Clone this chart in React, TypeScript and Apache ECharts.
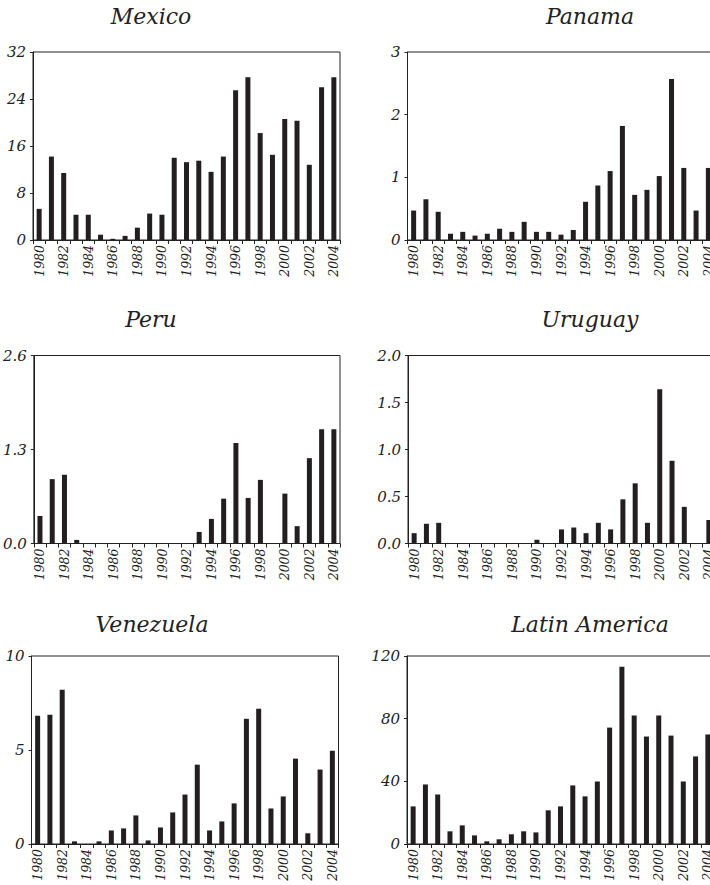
import React, { useEffect, useRef } from "react";
import * as echarts from "echarts";

const YEARS = [
  "1980", "1981", "1982", "1983", "1984", "1985", "1986", "1987", "1988",
  "1989", "1990", "1991", "1992", "1993", "1994", "1995", "1996", "1997",
  "1998", "1999", "2000", "2001", "2002", "2003", "2004",
];

const MEXICO = [
  5.3, 14.2, 11.4, 4.3, 4.3, 0.9, 0.2, 0.7, 2.1, 4.5, 4.3, 14.0, 13.25, 13.5,
  11.6, 14.2, 25.5, 27.7, 18.2, 14.5, 20.6, 20.3, 12.8, 26.0, 27.7,
];
const PANAMA = [
  0.47, 0.65, 0.45, 0.1, 0.13, 0.07, 0.1, 0.18, 0.13, 0.29, 0.13, 0.13, 0.085,
  0.16, 0.61, 0.87, 1.1, 1.82, 0.72, 0.8, 1.02, 2.57, 1.15, 0.47, 1.15,
];
const PERU = [
  0.38, 0.89, 0.95, 0.05, 0, 0, 0, 0, 0, 0, 0, 0, 0, 0.16, 0.34, 0.62, 1.39,
  0.63, 0.88, 0, 0.69, 0.24, 1.18, 1.58, 1.58,
];
const URUGUAY = [
  0.11, 0.21, 0.22, 0, 0, 0, 0, 0, 0, 0, 0.04, 0, 0.15, 0.17, 0.11, 0.22, 0.15,
  0.47, 0.64, 0.22, 1.64, 0.88, 0.39, 0, 0.25,
];
const VENEZUELA = [
  6.82, 6.87, 8.2, 0.14, 0, 0.14, 0.72, 0.83, 1.52, 0.19, 0.88, 1.68, 2.63,
  4.22, 0.72, 1.2, 2.16, 6.66, 7.19, 1.89, 2.53, 4.54, 0.57, 3.96, 4.96,
];
const LATIN_AMERICA = [
  24.0, 38.0, 31.6, 8.1, 11.9, 5.5, 1.7, 3.0, 6.2, 8.1, 7.4, 21.5, 24.0, 37.4,
  30.4, 39.9, 74.3, 113.2, 82.0, 68.6, 82.0, 69.2, 39.9, 55.9, 69.9,
];

const TITLES = ["Mexico", "Panama", "Peru", "Uruguay", "Venezuela", "Latin America"];
const Y_MAX = [32, 3, 2.6, 2.0, 10, 120];
const Y_STEP = [8, 1, 1.3, 0.5, 5, 40];
const Y_DECIMALS = [0, 0, 1, 1, 0, 0];
const SERIES = [MEXICO, PANAMA, PERU, URUGUAY, VENEZUELA, LATIN_AMERICA];

// layout (pixels)
const GRIDS = [
  { left: 33, top: 52 },
  { left: 407.5, top: 52 },
  { left: 33, top: 355.5 },
  { left: 408, top: 355.5 },
  { left: 31.5, top: 656 },
  { left: 407, top: 656 },
];
const TITLE_POS = [
  { x: 151, y: 16 },
  { x: 590, y: 16 },
  { x: 151, y: 319 },
  { x: 590, y: 319 },
  { x: 152, y: 624 },
  { x: 590, y: 624 },
];

const INK = "#222";
const BAR = "#231f20";
const FONT = '"DejaVu Serif", serif';

export default function App() {
  const ref = useRef<HTMLDivElement>(null);

  useEffect(() => {
    if (!ref.current) return;
    const chart = echarts.init(ref.current, undefined, { renderer: "svg" });

    const grid = GRIDS.map((g) => ({
      left: g.left,
      top: g.top,
      width: 307,
      height: 188,
      show: true,
      borderColor: INK,
      borderWidth: 1,
      backgroundColor: "transparent",
      containLabel: false,
    }));

    const xAxis = SERIES.map((_, i) => ({
      type: "category",
      gridIndex: i,
      data: YEARS,
      boundaryGap: true,
      axisLine: { show: true, lineStyle: { color: INK, width: 1 } },
      axisTick: { show: true, interval: 0, length: 4, lineStyle: { color: INK } },
      axisLabel: {
        interval: 1,
        rotate: 90,
        margin: 5,
        color: INK,
        fontFamily: FONT,
        fontStyle: "italic",
        fontSize: 12.5,
      },
      splitLine: { show: false },
    }));

    const yAxis = SERIES.map((_, i) => ({
      type: "value",
      gridIndex: i,
      min: 0,
      max: Y_MAX[i],
      interval: Y_STEP[i],
      axisLine: { show: true, lineStyle: { color: INK, width: 1 } },
      axisTick: { show: true, length: 3, lineStyle: { color: INK } },
      axisLabel: {
        margin: 7,
        color: INK,
        fontFamily: FONT,
        fontStyle: "italic",
        fontSize: 15,
        formatter: (v: number) => v.toFixed(Y_DECIMALS[i]),
      },
      splitLine: { show: false },
    }));

    const series = SERIES.map((data, i) => ({
      type: "bar",
      name: TITLES[i],
      xAxisIndex: i,
      yAxisIndex: i,
      data,
      barWidth: 5,
      itemStyle: { color: BAR },
    }));

    const graphic = TITLES.map((t, i) => ({
      type: "text",
      x: TITLE_POS[i].x,
      y: TITLE_POS[i].y,
      style: {
        text: t,
        fontFamily: FONT,
        fontStyle: "italic",
        fontSize: 22,
        fill: INK,
        align: "center",
        verticalAlign: "middle",
      },
    }));

    chart.setOption({
      animation: false,
      backgroundColor: "#ffffff",
      grid,
      xAxis,
      yAxis,
      series,
      graphic,
    } as any);

    return () => {
      chart.dispose();
    };
  }, []);

  return (
    <div
      style={{
        position: "fixed",
        left: 0,
        top: 0,
        width: 710,
        height: 885,
        overflow: "hidden",
        background: "#fff",
      }}
    >
      <div ref={ref} style={{ width: 740, height: 885 }} />
    </div>
  );
}
